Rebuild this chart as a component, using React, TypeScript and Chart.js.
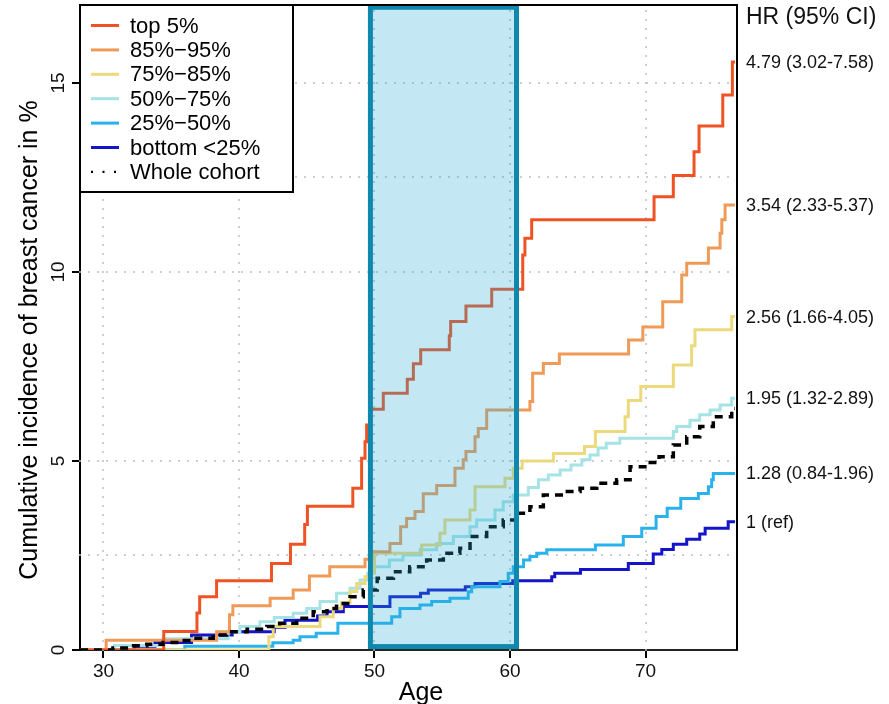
import React, { useEffect, useRef } from "react";
import { Chart, registerables } from "chart.js";

Chart.register(...registerables);

const FONT = "'Liberation Sans', Arial, Helvetica, sans-serif";

// Axis ranges and ticks
const AGE_MIN = 28.27;
const AGE_MAX = 76.75;
const INC_MAX = 17.06;
const xTickAges = [30, 40, 50, 60, 70];
const yTickVals = [0, 5, 10, 15];
const xGridAges = [30, 40, 50, 60, 70];
const yGridVals = [2.5, 5, 10, 12.5, 15];

// Highlighted age window (age 50-60)
const boxAges = [49.7, 60.48];
const boxInc = [0.09, 17.0];

// Series labels / colours
const seriesLabels = ["top 5%", "85%\u221295%", "75%\u221285%", "50%\u221275%", "25%\u221250%", "bottom <25%", "Whole cohort"];
const seriesColors = ["#EF5323", "#F09A58", "#ECD97C", "#A5E3E5", "#29B2EC", "#1414C8", "#000000"];
const hrLabels = ["4.79 (3.02-7.58)", "3.54 (2.33-5.37)", "2.56 (1.66-4.05)", "1.95 (1.32-2.89)", "1.28 (0.84-1.96)", "1 (ref)"];

// Step curves: ages where the cumulative incidence jumps, and the value after the jump
const top5Ages = [28.27, 34.45, 36.9, 37.1, 38.35, 42.4, 43.8, 44.85, 45.05, 48.4, 49.05, 49.3, 49.42, 49.65, 50.65, 52.42, 52.87, 53.41, 55.52, 55.62, 56.75, 58.65, 60.94, 61.1, 61.6, 70.63, 72.05, 73.58, 73.95, 75.7, 76.41, 76.6];
const top5Inc = [0, 0.49, 0.98, 1.41, 1.83, 2.29, 2.8, 3.32, 3.8, 4.28, 5.07, 5.51, 5.95, 6.37, 6.79, 7.16, 7.57, 7.94, 8.31, 8.69, 9.1, 9.54, 10.45, 10.89, 11.38, 11.99, 12.55, 13.18, 13.86, 14.68, 15.55, 15.55];

const p85Ages = [28.27, 30.2, 38.35, 39.3, 39.55, 42.3, 44.0, 45.2, 46.7, 49.3, 49.8, 51.14, 51.93, 52.37, 52.99, 53.6, 54.59, 55.94, 56.55, 56.75, 57.42, 57.66, 58.28, 61.47, 61.67, 62.46, 63.64, 68.75, 69.8, 71.27, 72.67, 73.04, 74.64, 75.5, 75.63, 75.87, 76.6];
const p85Inc = [0, 0.26, 0.48, 0.93, 1.17, 1.37, 1.59, 1.96, 2.2, 2.4, 2.6, 2.82, 3.26, 3.48, 3.66, 4.13, 4.35, 4.81, 5.03, 5.25, 5.64, 5.86, 6.35, 6.57, 7.32, 7.58, 7.83, 8.2, 8.54, 9.21, 9.92, 10.23, 10.63, 11.02, 11.38, 11.77, 11.77];

const p75Ages = [28.27, 42.2, 42.53, 45.98, 46.96, 47.58, 48.2, 48.69, 49.3, 49.67, 50.0, 53.48, 54.83, 55.2, 57.05, 57.42, 59.63, 60.24, 60.9, 63.2, 65.5, 66.3, 68.49, 68.73, 69.65, 72.05, 73.4, 73.65, 76.36, 76.6];
const p75Inc = [0, 0.35, 0.62, 0.88, 1.1, 1.25, 1.55, 1.76, 1.94, 2.05, 2.56, 2.78, 3.09, 3.44, 3.7, 4.32, 4.54, 4.81, 5.0, 5.2, 5.38, 5.78, 6.17, 6.6, 6.97, 7.54, 8.05, 8.47, 8.82, 8.82];

const p50Ages = [28.27, 30.8, 34.4, 39.2, 40.07, 41.55, 42.6, 44.0, 45.0, 45.98, 47.2, 48.2, 48.93, 49.5, 50.0, 51.1, 52.1, 53.36, 54.59, 55.82, 57.05, 57.54, 58.89, 59.5, 60.24, 61.35, 62.1, 62.83, 63.7, 64.5, 65.3, 65.9, 66.5, 67.1, 68.1, 72.05, 72.3, 73.28, 74.0, 74.76, 75.5, 76.36, 76.6];
const p50Inc = [0, 0.12, 0.3, 0.48, 0.62, 0.75, 0.86, 0.97, 1.1, 1.28, 1.5, 1.63, 1.85, 2.03, 2.2, 2.38, 2.51, 2.65, 2.82, 3.0, 3.26, 3.44, 3.7, 3.92, 4.1, 4.3, 4.5, 4.63, 4.76, 4.89, 5.03, 5.16, 5.34, 5.47, 5.6, 5.78, 5.91, 6.08, 6.22, 6.35, 6.48, 6.66, 6.66];

const p25Ages = [28.27, 36.0, 42.5, 44.0, 44.5, 45.7, 47.3, 51.27, 51.88, 53.36, 54.22, 55.57, 56.92, 57.17, 59.26, 59.87, 60.24, 61.0, 61.47, 61.97, 62.71, 66.3, 68.36, 69.72, 70.78, 71.6, 72.6, 73.9, 74.64, 74.88, 75.0, 76.6];
const p25Inc = [0, 0.1, 0.19, 0.26, 0.35, 0.44, 0.71, 0.88, 1.1, 1.19, 1.28, 1.37, 1.54, 1.67, 1.81, 2.03, 2.2, 2.38, 2.47, 2.56, 2.65, 2.78, 3.0, 3.22, 3.53, 3.75, 4.01, 4.14, 4.32, 4.5, 4.67, 4.67];

const p0Ages = [28.27, 32.3, 33.8, 36.5, 39.5, 42.6, 43.4, 45.8, 46.5, 47.7, 51.14, 53.4, 53.97, 56.7, 57.42, 60.2, 63.08, 63.3, 65.2, 68.73, 70.57, 71.2, 72.05, 73.04, 74.0, 74.4, 76.1, 76.6];
const p0Inc = [0, 0.1, 0.2, 0.4, 0.48, 0.6, 0.79, 0.9, 1.01, 1.15, 1.41, 1.5, 1.59, 1.67, 1.76, 1.83, 1.94, 2.03, 2.13, 2.29, 2.54, 2.66, 2.8, 2.93, 3.07, 3.22, 3.39, 3.39];

const cohortAges = [28.27, 30.7, 32.0, 33.2, 34.4, 35.6, 36.6, 38.1, 39.1, 40.6, 42.05, 43.0, 44.26, 45.48, 46.5, 47.2, 48.2, 49.17, 50.2, 51.4, 52.6, 53.85, 55.08, 56.3, 57.05, 58.28, 59.5, 60.5, 61.47, 62.46, 63.93, 65.17, 66.4, 67.87, 68.86, 70.09, 71.0, 72.05, 73.04, 74.0, 75.0, 76.36, 76.6];
const cohortInc = [0, 0.05, 0.11, 0.15, 0.2, 0.25, 0.31, 0.4, 0.48, 0.55, 0.62, 0.71, 0.84, 1.01, 1.1, 1.23, 1.41, 1.59, 1.9, 2.07, 2.2, 2.38, 2.56, 2.69, 3.0, 3.26, 3.44, 3.62, 3.79, 4.1, 4.19, 4.28, 4.41, 4.5, 4.85, 4.96, 5.11, 5.42, 5.64, 5.91, 6.17, 6.39, 6.39];

const seriesAges = [top5Ages, p85Ages, p75Ages, p50Ages, p25Ages, p0Ages, cohortAges];
const seriesInc = [top5Inc, p85Inc, p75Inc, p50Inc, p25Inc, p0Inc, cohortInc];

const overlayPlugin = {
  id: "overlay",
  beforeDatasetsDraw(chart: any) {
    const { ctx, chartArea: a, scales } = chart;
    const x = scales.x, y = scales.y;
    ctx.save();
    ctx.strokeStyle = "#bdbdbd";
    ctx.lineWidth = 2;
    ctx.lineCap = "round";
    ctx.setLineDash([0, 9]);
    for (const v of xGridAges) {
      const px = Math.round(x.getPixelForValue(v));
      ctx.beginPath(); ctx.moveTo(px, a.bottom); ctx.lineTo(px, a.top); ctx.stroke();
    }
    for (const v of yGridVals) {
      const py = Math.round(y.getPixelForValue(v));
      ctx.beginPath(); ctx.moveTo(a.left, py); ctx.lineTo(a.right, py); ctx.stroke();
    }
    ctx.restore();
  },
  afterDatasetsDraw(chart: any) {
    const { ctx, chartArea: a, scales } = chart;
    const x = scales.x, y = scales.y;
    ctx.save();
    // highlighted window
    const bx0 = x.getPixelForValue(boxAges[0]);
    const bx1 = x.getPixelForValue(boxAges[1]);
    const by0 = y.getPixelForValue(boxInc[1]);
    const by1 = y.getPixelForValue(boxInc[0]);
    ctx.fillStyle = "rgba(41,173,216,0.28)";
    ctx.fillRect(bx0, by0, bx1 - bx0, by1 - by0);
    ctx.strokeStyle = "#0F88AD";
    ctx.lineWidth = 5;
    ctx.strokeRect(bx0, by0, bx1 - bx0, by1 - by0);

    // frame top / right
    ctx.strokeStyle = "#000";
    ctx.lineWidth = 2;
    ctx.beginPath();
    ctx.moveTo(a.left, a.top); ctx.lineTo(a.right, a.top); ctx.lineTo(a.right, a.bottom);
    ctx.stroke();

    // legend
    const lx = a.left, ly = a.top, lw = 213, lh = 187;
    ctx.fillStyle = "#fff";
    ctx.fillRect(lx, ly, lw, lh);
    ctx.strokeStyle = "#000";
    ctx.lineWidth = 2;
    ctx.strokeRect(lx, ly, lw, lh);
    ctx.font = `22px ${FONT}`;
    ctx.textBaseline = "middle";
    ctx.textAlign = "left";
    seriesLabels.forEach((lab, i) => {
      const yy = ly + 20.5 + i * 24.4;
      ctx.strokeStyle = seriesColors[i];
      if (i === seriesLabels.length - 1) {
        ctx.lineWidth = 2.2;
        ctx.setLineDash([2, 9.5]);
      } else {
        ctx.lineWidth = 3;
        ctx.setLineDash([]);
      }
      ctx.beginPath(); ctx.moveTo(lx + 11, yy); ctx.lineTo(lx + 39, yy); ctx.stroke();
      ctx.setLineDash([]);
      ctx.fillStyle = "#000";
      ctx.fillText(lab, lx + 50, yy + 1);
    });

    // HR labels on the right, at the end value of each curve
    ctx.fillStyle = "#111";
    ctx.font = `23px ${FONT}`;
    ctx.fillText("HR (95% CI)", a.right + 9, 18);
    ctx.font = `18px ${FONT}`;
    hrLabels.forEach((lab, i) => {
      const vals = seriesInc[i];
      const py = y.getPixelForValue(vals[vals.length - 1]);
      ctx.fillText(lab, a.right + 9, py + 1);
    });

    // axis titles
    ctx.fillStyle = "#000";
    ctx.textAlign = "center";
    ctx.font = `25px ${FONT}`;
    ctx.fillText("Age", 421, 693);
    ctx.translate(30, 340);
    ctx.rotate(-Math.PI / 2);
    ctx.fillText("Cumulative incidence of breast cancer in %", 0, 0);
    ctx.restore();
  },
};

export default function App() {
  const ref = useRef<HTMLCanvasElement | null>(null);
  useEffect(() => {
    if (!ref.current) return;
    Chart.defaults.font.family = FONT;
    const datasets = seriesLabels.map((label, i) => {
      const isCohort = i === seriesLabels.length - 1;
      return {
        label,
        data: seriesAges[i].map((a, j) => ({ x: a, y: seriesInc[i][j] })),
        borderColor: seriesColors[i],
        borderWidth: isCohort ? 3.5 : 3,
        borderDash: isCohort ? [8, 6] : [],
        stepped: true as const,
        pointRadius: 0,
        fill: false,
        order: isCohort ? 0 : i + 1,
      };
    });
    const chart = new Chart(ref.current, {
      type: "line",
      data: { datasets },
      options: {
        animation: false,
        responsive: false,
        devicePixelRatio: 1,
        layout: { padding: { top: 5, right: 152, left: 0, bottom: 0 } },
        plugins: {
          legend: { display: false },
          tooltip: { enabled: false },
          title: { display: false },
        },
        scales: {
          x: {
            type: "linear",
            min: AGE_MIN,
            max: AGE_MAX,
            afterBuildTicks: (s: any) => { s.ticks = xTickAges.map((v) => ({ value: v })); },
            afterFit: (s: any) => { s.height = 54; s.paddingLeft = 0; s.paddingRight = 0; },
            grid: { display: true, drawOnChartArea: false, drawTicks: true, tickLength: 8, color: "#000", lineWidth: 2 },
            border: { display: true, color: "#222", width: 2, dash: [5, 3] },
            ticks: { font: { size: 19, family: FONT }, color: "#111", padding: 2, maxRotation: 0, autoSkip: false },
          },
          y: {
            type: "linear",
            min: 0,
            max: INC_MAX,
            afterBuildTicks: (s: any) => { s.ticks = yTickVals.map((v) => ({ value: v })); },
            afterFit: (s: any) => { s.width = 80; s.paddingTop = 0; s.paddingBottom = 0; },
            grid: { display: true, drawOnChartArea: false, drawTicks: true, tickLength: 8, color: "#000", lineWidth: 2 },
            border: { display: true, color: "#000", width: 2 },
            ticks: { font: { size: 19, family: FONT }, color: "#111", padding: 3, minRotation: 90, maxRotation: 90, crossAlign: "center" },
          },
        },
      } as any,
      plugins: [overlayPlugin],
    });
    return () => chart.destroy();
  }, []);
  return (
    <div style={{ position: "absolute", left: 0, top: 0, width: 889, height: 704, background: "#fff" }}>
      <canvas ref={ref} width={889} height={704} style={{ display: "block" }} />
    </div>
  );
}
